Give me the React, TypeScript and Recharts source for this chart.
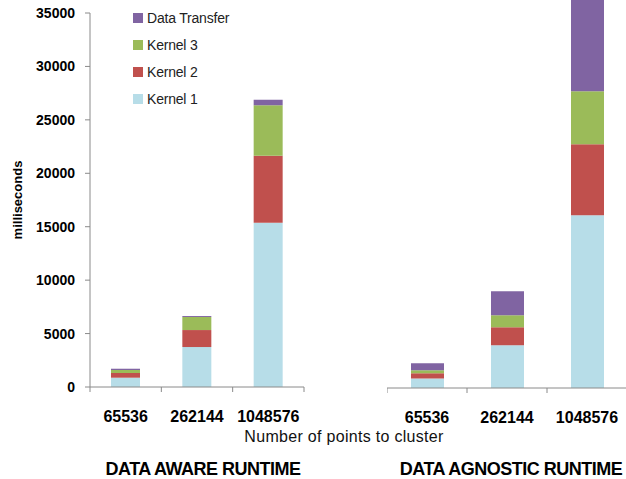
import React from 'react';
import { BarChart, Bar, XAxis, YAxis } from 'recharts';

const categories = ['65536', '262144', '1048576'];

// data aware runtime (ms)
const awareKernel1 = [870, 3740, 15370];
const awareKernel2 = [440, 1590, 6280];
const awareKernel3 = [280, 1220, 4710];
const awareTransfer = [120, 90, 530];

// data agnostic runtime (ms) - last transfer bar runs off the top
const agnosticKernel1 = [900, 3990, 16160];
const agnosticKernel2 = [470, 1690, 6640];
const agnosticKernel3 = [280, 1120, 4960];
const agnosticTransfer = [660, 2250, 11000];

const yTicks = [0, 5000, 10000, 15000, 20000, 25000, 30000, 35000];

const series = [
  { key: 'k1', name: 'Kernel 1', color: '#B7DDE8' },
  { key: 'k2', name: 'Kernel 2', color: '#C0504D' },
  { key: 'k3', name: 'Kernel 3', color: '#9BBB59' },
  { key: 'dt', name: 'Data Transfer', color: '#8064A2' },
];
const legendOrder = ['Data Transfer', 'Kernel 3', 'Kernel 2', 'Kernel 1'];

const FONT = '"Liberation Sans", Arial, sans-serif';
const AXIS = '#8a8a8a';

const build = (k1: number[], k2: number[], k3: number[], dt: number[]) =>
  categories.map((c, i) => ({ cat: c, k1: k1[i], k2: k2[i], k3: k3[i], dt: dt[i] }));

const awareData = build(awareKernel1, awareKernel2, awareKernel3, awareTransfer);
const agnosticData = build(agnosticKernel1, agnosticKernel2, agnosticKernel3, agnosticTransfer);

// category tick: label in the middle, tick marks on the band edges
const makeTick = (band: number) => (props: any) => {
  const { x, y, payload, index } = props;
  const last = index === categories.length - 1;
  return (
    <g>
      <line x1={x - band / 2} y1={y} x2={x - band / 2} y2={y + 5} stroke={AXIS} />
      {last && <line x1={x + band / 2} y1={y} x2={x + band / 2} y2={y + 5} stroke={AXIS} />}
      <text x={x} y={y + 35} textAnchor="middle" fontSize={16} fontWeight="bold" fill="#000" fontFamily={FONT}>
        {payload.value}
      </text>
    </g>
  );
};

const YLabel = (props: any) => {
  const { viewBox } = props;
  const cy = viewBox.y + viewBox.height / 2;
  return (
    <text
      x={17}
      y={cy}
      transform={`rotate(-90, 17, ${cy})`}
      textAnchor="middle"
      dominantBaseline="central"
      fontSize={13}
      fontWeight="bold"
      fill="#000"
      fontFamily={FONT}
    >
      milliseconds
    </text>
  );
};

const App = () => {
  const legendItems = legendOrder.map((n) => series.find((s) => s.name === n)!);
  return (
    <div style={{ position: 'absolute', left: 0, top: 0, width: 626, height: 479, background: '#fff', fontFamily: FONT, overflow: 'hidden' }}>
      <div style={{ position: 'absolute', left: 0, top: 0 }}>
        <BarChart width={305} height={479} data={awareData} margin={{ top: 13, right: 1, left: 0, bottom: 0 }} barSize={29}>
          <XAxis
            dataKey="cat"
            height={92}
            stroke={AXIS}
            tickLine={false}
            tickSize={0}
            tickMargin={0}
            tick={makeTick(214 / 3)}
            interval={0}
          />
          <YAxis
            width={90}
            domain={[0, 35000]}
            ticks={yTicks}
            stroke={AXIS}
            tickSize={5}
            tickMargin={10}
            tick={{ fontSize: 14, fontWeight: 'bold', fill: '#000', fontFamily: FONT }}
            label={<YLabel />}
            allowDataOverflow
          />
          {series.map((s) => (
            <Bar key={s.key} dataKey={s.key} name={s.name} stackId="a" fill={s.color} isAnimationActive={false} />
          ))}
        </BarChart>
      </div>
      <div style={{ position: 'absolute', left: 387, top: 0 }}>
        <BarChart width={240} height={479} data={agnosticData} margin={{ top: 0, right: 0, left: 0, bottom: 0 }} barSize={33}>
          <XAxis
            dataKey="cat"
            height={91}
            stroke={AXIS}
            tickLine={false}
            tickSize={0}
            tickMargin={0}
            tick={makeTick(80)}
            interval={0}
          />
          <YAxis hide domain={[0, 36300]} allowDataOverflow />
          {series.map((s) => (
            <Bar key={s.key} dataKey={s.key} name={s.name} stackId="a" fill={s.color} isAnimationActive={false} />
          ))}
        </BarChart>
      </div>
      <svg width={626} height={479} style={{ position: 'absolute', left: 0, top: 0, pointerEvents: 'none' }}>
        {legendItems.map((it, i) => (
          <g key={it.key}>
            <rect x={133} y={13 + i * 27} width={10} height={10} fill={it.color} />
            <text x={147} y={18 + i * 27} dominantBaseline="central" fontSize={14} fill="#222" fontFamily={FONT} letterSpacing={-0.2}>
              {it.name}
            </text>
          </g>
        ))}
        <text x={344} y={442} textAnchor="middle" fontSize={16} fill="#111" fontFamily={FONT} letterSpacing={0.3}>
          Number of points to cluster
        </text>
        <text x={203} y={475} textAnchor="middle" fontSize={18} fontWeight="bold" fill="#000" fontFamily={FONT} letterSpacing={-0.5}>
          DATA AWARE RUNTIME
        </text>
        <text x={511} y={475} textAnchor="middle" fontSize={18} fontWeight="bold" fill="#000" fontFamily={FONT} letterSpacing={-0.5}>
          DATA AGNOSTIC RUNTIME
        </text>
      </svg>
    </div>
  );
};

export default App;
